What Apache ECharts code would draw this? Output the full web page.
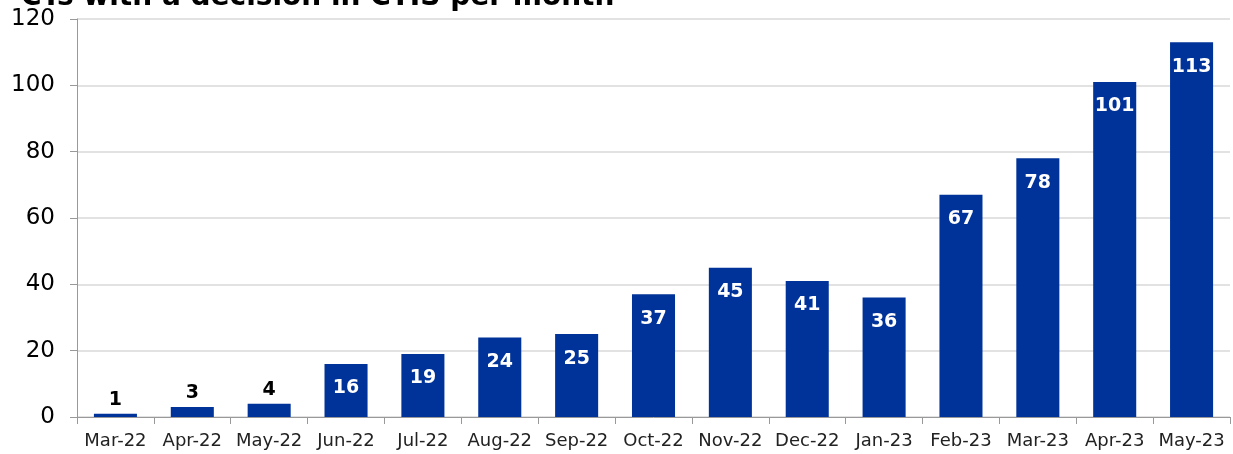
<!DOCTYPE html>
<html>
<head>
<meta charset="utf-8">
<script src="https://cdn.jsdelivr.net/npm/echarts@6/dist/echarts.min.js"></script>
<style>
  html, body { margin: 0; padding: 0; background: #fff; }
  #chart { width: 1233px; height: 454px; }
</style>
</head>
<body>
<div id="chart"></div>
<script>
const months = ['Mar-22', 'Apr-22', 'May-22', 'Jun-22', 'Jul-22', 'Aug-22', 'Sep-22', 'Oct-22',
  'Nov-22', 'Dec-22', 'Jan-23', 'Feb-23', 'Mar-23', 'Apr-23', 'May-23'];
const decisions = [1, 3, 4, 16, 19, 24, 25, 37, 45, 41, 36, 67, 78, 101, 113];
const yTicks = [0, 20, 40, 60, 80, 100, 120];

const font = '"DejaVu Sans", Verdana, sans-serif';
const chart = echarts.init(document.getElementById('chart'));

// small bars get their label above in black, the rest inside in white
const barData = decisions.map(v => v < 10
  ? { value: v, label: { position: 'top', color: '#000', distance: 4 } }
  : { value: v });

chart.setOption({
  animation: false,
  title: {
    text: 'CTs with a decision in CTIS per month',
    left: 16,
    top: -21,
    textStyle: { fontFamily: font, fontSize: 28, fontWeight: 'bold', color: '#000' }
  },
  grid: { left: 77, right: 3, top: 19, bottom: 37 },
  xAxis: {
    type: 'category',
    data: months,
    axisLine: { lineStyle: { color: '#999', width: 1 } },
    axisTick: { show: true, length: 7, lineStyle: { color: '#999' } },
    axisLabel: { fontFamily: font, fontSize: 18, color: '#222', margin: 15, interval: 0 }
  },
  yAxis: {
    type: 'value',
    min: yTicks[0],
    max: yTicks[yTicks.length - 1],
    interval: 20,
    axisLine: { show: true, lineStyle: { color: '#999', width: 1 } },
    axisTick: { show: true, length: 7, lineStyle: { color: '#999' } },
    axisLabel: { fontFamily: font, fontSize: 23, color: '#000', margin: 22 },
    splitLine: { lineStyle: { color: '#d9d9d9', width: 1.5 } }
  },
  series: [{
    type: 'bar',
    data: barData,
    barWidth: '56%',
    itemStyle: { color: '#003399' },
    label: {
      show: true,
      position: 'insideTop',
      distance: 15,
      color: '#fff',
      fontFamily: font,
      fontSize: 19,
      fontWeight: 'bold'
    }
  }]
});
</script>
</body>
</html>
